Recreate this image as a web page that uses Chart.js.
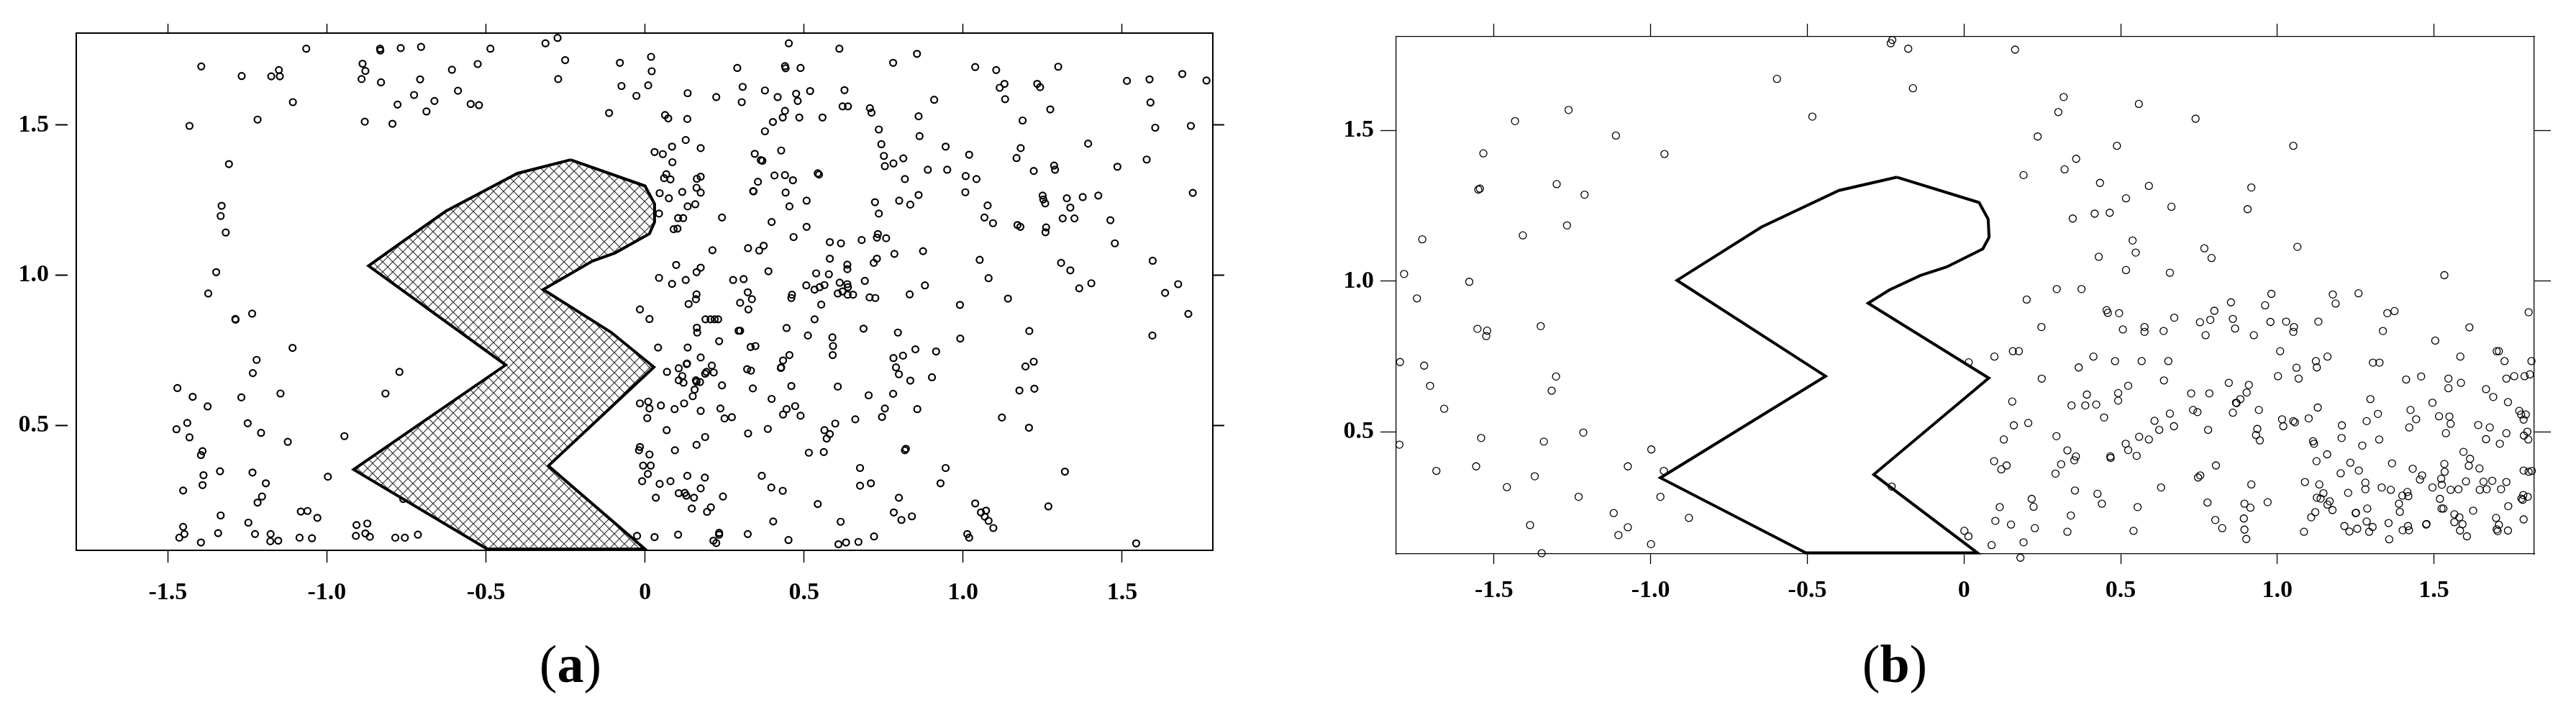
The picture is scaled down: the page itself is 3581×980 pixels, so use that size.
<!DOCTYPE html>
<html>
<head>
<meta charset="utf-8">
<title>Scatter with polygon</title>
<script src="https://cdn.jsdelivr.net/npm/chart.js@4"></script>
<style>
    html, body { margin: 0; padding: 0; background: #fff; }
    body { position: relative; width: 3581px; height: 980px; overflow: hidden; }
    canvas { position: absolute; top: 0; }
    #chartA { left: 0; }
    #chartB { left: 1790px; }
    .caption { position: absolute; top: 881px; width: 180px; text-align: center; font: 74px "Liberation Serif", serif; color: #000; }
    #capA { left: 703px; }
    #capB { left: 2544px; }
</style>
</head>
<body>
<canvas id="chartA" width="1790" height="980"></canvas>
<canvas id="chartB" width="1791" height="980"></canvas>
<div class="caption" id="capA">(<b>a</b>)</div>
<div class="caption" id="capB">(<b>b</b>)</div>
<script>
const xTickValues = [-1.5, -1.0, -0.5, 0, 0.5, 1.0, 1.5];
const yTickValues = [0.5, 1.0, 1.5];

// polygon outlines, closed
const polygonA = [[-0.234,1.384],[-0.401,1.339],[-0.626,1.213],[-0.775,1.102],[-0.869,1.031],[-0.438,0.701],[-0.916,0.353],[-0.496,0.088],[0.0,0.088],[-0.304,0.365],[0.028,0.694],[-0.107,0.810],[-0.320,0.952],[-0.165,1.047],[-0.094,1.074],[0.014,1.138],[0.030,1.177],[0.030,1.237],[0.0,1.297],[-0.234,1.384]];
const polygonB = [[-0.214,1.345],[-0.399,1.301],[-0.646,1.180],[-0.916,1.003],[-0.442,0.685],[-0.969,0.348],[-0.505,0.099],[0.043,0.099],[-0.288,0.359],[0.079,0.679],[-0.306,0.927],[-0.238,0.971],[-0.139,1.019],[-0.056,1.047],[0.060,1.107],[0.080,1.146],[0.077,1.206],[0.048,1.261],[-0.214,1.345]];

const pointsA = [
[-1.065,1.754],[-0.833,1.754],[-0.832,1.748],[-0.768,1.756],[-0.704,1.760],[-0.486,1.754],[-0.313,1.772],[-0.275,1.790],[-0.251,1.716],[-0.079,1.707],
[-1.395,1.695],[-1.268,1.663],[-1.175,1.662],[-1.151,1.683],[-1.148,1.662],[-0.888,1.704],[-0.879,1.680],[-0.891,1.653],[-0.830,1.642],[-0.707,1.652],
[-0.607,1.684],[-0.526,1.703],[-0.588,1.614],[-0.726,1.600],[-0.662,1.580],[-0.778,1.568],[-0.548,1.570],[-0.522,1.566],[-0.687,1.545],[-1.107,1.576],
[-1.218,1.518],[-1.432,1.497],[-0.881,1.511],[-0.794,1.504],[-0.273,1.653],[-0.074,1.630],[-0.027,1.597],[-0.113,1.540],[-1.308,1.370],[-1.331,1.231],
[-1.334,1.197],[-1.318,1.142],[-1.348,1.010],[-1.373,0.939],[-1.288,0.854],[-1.287,0.852],[-1.235,0.872],[-1.108,0.758],[-0.016,0.886],
[-1.221,0.718],[-1.233,0.674],[-1.470,0.624],[-1.422,0.595],[-1.269,0.593],[-1.146,0.606],[-1.375,0.563],[-0.816,0.606],[-0.772,0.678],[-1.439,0.508],
[-1.473,0.487],[-1.249,0.507],[-1.207,0.475],[-1.432,0.460],[-1.123,0.445],[-0.945,0.464],[-1.391,0.414],[-1.396,0.401],[-1.336,0.347],[-1.234,0.343],
[-1.388,0.334],[-0.997,0.329],[-1.391,0.301],[-1.192,0.307],[-1.452,0.283],[-1.204,0.263],[-1.218,0.243],[-0.760,0.255],[-1.334,0.200],[-1.082,0.213],
[-1.061,0.215],[-1.030,0.192],[-1.247,0.176],[-1.452,0.162],[-0.907,0.168],[-0.873,0.173],[-1.448,0.138],[-1.464,0.126],[-1.342,0.141],[-1.226,0.138],
[-1.177,0.138],[-1.178,0.114],[-1.153,0.116],[-1.396,0.110],[-1.086,0.126],[-1.047,0.124],[-0.909,0.132],[-0.879,0.140],[-0.865,0.129],[-0.785,0.126],
[-0.755,0.126],[-0.714,0.136],
[0.019,1.727],[0.021,1.679],[0.010,1.632],[0.063,1.533],[0.073,1.522],[0.133,1.520],[0.134,1.606],[0.224,1.593],[0.290,1.690],[0.307,1.627],
[0.304,1.576],[0.377,1.615],[0.417,1.593],[0.452,1.772],[0.440,1.696],[0.442,1.689],[0.489,1.690],[0.475,1.604],[0.480,1.580],[0.519,1.613],
[0.440,1.547],[0.433,1.525],[0.485,1.525],[0.558,1.525],[0.402,1.510],[0.377,1.479],[0.611,1.754],[0.780,1.707],[0.855,1.737],[0.627,1.616],
[0.621,1.562],[0.638,1.562],[0.707,1.556],[0.712,1.541],[0.909,1.584],[0.860,1.529],[0.735,1.485],[0.863,1.463],[0.743,1.436],[0.945,1.428],
[1.038,1.693],[1.104,1.683],[1.299,1.694],[1.130,1.637],[1.115,1.624],[1.132,1.586],[1.233,1.637],[1.242,1.626],[1.274,1.552],[1.187,1.515],
[1.515,1.647],[1.586,1.652],[1.689,1.670],[1.765,1.648],[1.589,1.575],[1.604,1.491],[1.716,1.497],[1.393,1.438],[1.181,1.423],[1.019,1.401],
[1.168,1.390],[1.577,1.385],[1.485,1.361],[1.286,1.365],[1.289,1.351],[1.222,1.347],[0.812,1.389],[0.781,1.372],[0.751,1.397],[0.754,1.363],
[0.889,1.351],[0.950,1.351],[1.008,1.330],[1.042,1.320],[0.817,1.320],[1.007,1.276],[0.860,1.267],[0.799,1.248],[0.834,1.235],[0.723,1.243],
[0.735,1.205],[1.077,1.232],[1.067,1.192],[1.094,1.173],[1.171,1.167],[1.180,1.161],[1.261,1.159],[1.259,1.143],[1.250,1.265],[1.252,1.252],
[1.258,1.239],[1.326,1.256],[1.376,1.260],[1.425,1.265],[1.337,1.225],[1.313,1.189],[1.350,1.189],[1.463,1.183],[1.722,1.274],[1.477,1.106],
[1.596,1.048],[1.308,1.041],[1.337,1.016],[1.052,1.051],[1.080,0.990],[1.403,0.973],[1.365,0.956],[1.676,0.970],[1.635,0.941],[1.141,0.922],
[0.990,0.901],[1.708,0.871],[1.208,0.814],[0.991,0.789],[1.595,0.799],[0.880,0.966],[0.832,0.936],[0.874,1.080],[0.784,1.071],[0.729,1.055],
[0.719,1.041],[0.758,1.123],[0.732,1.137],[0.729,1.125],[0.681,1.117],[0.616,1.106],[0.581,1.110],[0.581,1.055],[0.636,1.035],[0.636,1.020],
[0.538,1.006],[0.578,1.003],[0.691,0.981],[0.612,0.975],[0.636,0.970],[0.638,0.960],[0.564,0.967],[0.549,0.960],[0.507,0.966],[0.533,0.952],
[0.621,0.946],[0.606,0.939],[0.637,0.935],[0.654,0.935],[0.706,0.926],[0.724,0.924],[0.554,0.902],[0.462,0.935],[0.460,0.924],[0.533,0.853],
[0.445,0.824],[0.512,0.799],[0.589,0.793],[0.591,0.764],[0.687,0.822],[0.795,0.809],[0.850,0.753],[0.915,0.746],[0.467,1.127],[0.508,1.161],
[0.398,1.177],[0.454,1.229],[0.508,1.248],[0.442,1.275],[0.341,1.279],[0.340,1.280],[0.355,1.311],[0.407,1.332],[0.440,1.333],[0.465,1.316],
[0.543,1.339],[0.547,1.335],[0.345,1.404],[0.364,1.383],[0.369,1.381],[0.428,1.415],[0.128,1.450],[0.085,1.428],[0.175,1.423],[0.030,1.410],
[0.056,1.403],[0.086,1.376],[0.067,1.336],[0.060,1.323],[0.080,1.319],[0.175,1.328],[0.163,1.321],[0.162,1.291],[0.175,1.275],[0.046,1.273],
[0.117,1.277],[0.075,1.256],[0.158,1.236],[0.134,1.229],[0.044,1.205],[0.104,1.190],[0.120,1.190],[0.242,1.192],[0.090,1.153],[0.102,1.155],
[0.212,1.083],[0.324,1.090],[0.373,1.098],[0.359,1.082],[0.098,1.034],[0.175,1.025],[0.162,1.010],[0.388,1.013],[0.044,0.991],[0.085,0.971],
[0.128,0.984],[0.277,0.984],[0.310,0.987],[0.323,0.943],[0.336,0.920],[0.299,0.908],[0.325,0.886],[0.162,0.936],[0.160,0.920],[0.137,0.904],
[0.014,0.854],[0.190,0.853],[0.206,0.853],[0.219,0.853],[0.230,0.853],[0.163,0.825],[0.164,0.809],[0.294,0.815],[0.299,0.815],[0.233,0.780],
[0.041,0.759],[0.134,0.759],[0.332,0.761],[0.347,0.764],
[0.175,0.726],[0.454,0.734],[0.590,0.734],[0.781,0.724],[0.811,0.732],[1.222,0.712],[1.196,0.696],[0.434,0.716],[0.428,0.693],[0.427,0.691],
[0.132,0.706],[0.131,0.704],[0.210,0.699],[0.106,0.690],[0.069,0.678],[0.193,0.678],[0.189,0.672],[0.216,0.676],[0.321,0.687],[0.333,0.682],
[0.117,0.664],[0.106,0.650],[0.121,0.642],[0.160,0.650],[0.162,0.645],[0.173,0.644],[0.242,0.633],[0.339,0.623],[0.460,0.631],[0.789,0.693],
[0.798,0.670],[0.834,0.649],[0.902,0.660],[0.606,0.629],[0.703,0.600],[0.780,0.605],[1.177,0.616],[1.224,0.622],[0.156,0.619],[0.150,0.597],
[0.398,0.588],[-0.016,0.573],[0.010,0.579],[0.014,0.556],[0.050,0.566],[0.093,0.554],[0.123,0.573],[0.175,0.548],[0.237,0.556],[0.250,0.523],
[0.273,0.527],[0.007,0.524],[0.472,0.564],[0.445,0.554],[0.434,0.536],[0.489,0.532],[0.754,0.556],[0.856,0.554],[0.745,0.528],[0.661,0.520],
[0.598,0.506],[1.122,0.526],[1.207,0.492],[0.068,0.484],[0.324,0.473],[0.386,0.488],[0.564,0.484],[0.581,0.471],[0.571,0.456],[0.189,0.461],
[0.162,0.435],[-0.016,0.428],[-0.019,0.417],[0.094,0.417],[0.014,0.403],[0.515,0.409],[0.562,0.411],[0.820,0.422],[0.817,0.417],[-0.006,0.366],
[0.018,0.366],[0.676,0.358],[0.945,0.358],[1.320,0.346],[0.009,0.338],[-0.009,0.314],[0.046,0.305],[0.080,0.314],[0.133,0.332],[0.188,0.326],
[0.367,0.332],[0.175,0.290],[0.397,0.293],[0.433,0.282],[0.676,0.299],[0.710,0.307],[0.929,0.307],[0.106,0.274],[0.125,0.275],[0.130,0.266],
[0.034,0.259],[0.154,0.259],[0.245,0.263],[0.798,0.259],[0.543,0.238],[1.038,0.240],[1.268,0.230],[0.147,0.223],[0.207,0.227],[0.195,0.212],
[1.072,0.216],[1.056,0.210],[1.068,0.196],[0.782,0.210],[0.839,0.197],[0.806,0.185],[1.080,0.182],[1.095,0.158],[0.403,0.180],[0.615,0.179],
[-0.025,0.132],[0.030,0.128],[0.104,0.136],[0.233,0.142],[0.233,0.136],[0.323,0.138],[0.215,0.116],[0.224,0.108],[0.451,0.118],[0.720,0.130],
[0.671,0.112],[0.632,0.110],[0.608,0.104],[1.013,0.138],[1.019,0.126],[1.544,0.107]
];

const pointsB = [
[-0.229,1.800],[-0.234,1.789],[-0.178,1.771],[-0.597,1.671],[-0.163,1.640],[-0.484,1.546],[-1.262,1.568],[-1.433,1.531],[-1.111,1.483],[-1.534,1.424],
[-0.956,1.422],[-1.300,1.322],[-1.211,1.287],[-1.550,1.304],[-1.545,1.307],[-1.267,1.185],[-1.408,1.152],[-1.729,1.139],[-1.787,1.024],[-1.579,0.998],
[-1.746,0.943],[-1.351,0.851],[-1.553,0.842],[-1.522,0.836],[-1.525,0.818],
[-1.800,0.732],[-1.723,0.720],[-1.704,0.653],[-1.659,0.577],[-1.302,0.684],[-1.316,0.637],[-1.215,0.498],[-1.802,0.458],[-1.541,0.480],[-1.341,0.468],
[-0.998,0.442],[-1.557,0.386],[-1.684,0.371],[-1.073,0.386],[-0.958,0.371],[-1.370,0.353],[-1.459,0.317],[-1.230,0.285],[-0.969,0.285],[-1.118,0.231],
[-0.878,0.215],[-1.385,0.191],[-1.073,0.184],[-1.103,0.158],[-0.999,0.128],[-1.348,0.098],[-0.231,0.319],
[0.163,1.768],[0.318,1.611],[0.558,1.588],[0.301,1.561],[0.739,1.539],[0.235,1.480],[0.488,1.449],[1.051,1.449],[0.358,1.406],[0.321,1.371],
[0.190,1.352],[0.434,1.326],[0.590,1.316],[0.917,1.311],[0.517,1.275],[0.662,1.247],[0.905,1.239],[0.417,1.224],[0.465,1.227],[0.347,1.208],
[0.538,1.135],[0.548,1.095],[0.767,1.109],[0.790,1.077],[1.064,1.114],[0.430,1.081],[0.517,1.037],[0.657,1.028],[1.533,1.020],[0.296,0.974],
[0.375,0.974],[0.200,0.939],[0.981,0.958],[1.177,0.956],[1.259,0.960],[0.852,0.930],[0.961,0.920],[1.186,0.926],[0.455,0.904],[0.459,0.895],
[0.495,0.894],[0.799,0.902],[1.374,0.901],[1.351,0.894],[1.802,0.897],[0.671,0.879],[0.753,0.864],[0.786,0.872],[0.858,0.875],[0.978,0.865],
[1.028,0.866],[1.131,0.866],[0.247,0.848],[0.507,0.840],[0.576,0.848],[0.576,0.832],[0.637,0.835],[0.865,0.843],[1.053,0.848],[1.051,0.832],
[0.771,0.821],[0.925,0.821],[1.337,0.835],[1.613,0.847],[1.504,0.803],[0.156,0.768],[0.175,0.768],[1.009,0.768],[1.707,0.768],[1.700,0.768],
[0.015,0.731],[0.097,0.750],[0.413,0.750],[0.482,0.735],[0.567,0.735],[0.652,0.735],[0.366,0.714],[1.123,0.735],[1.126,0.714],[1.160,0.750],
[1.061,0.713],[1.305,0.730],[1.326,0.730],[1.584,0.750],[1.725,0.735],[1.811,0.735],[0.248,0.677],[0.638,0.671],[0.524,0.653],[0.492,0.629],
[0.492,0.604],[0.392,0.624],[0.343,0.588],[0.387,0.588],[0.422,0.591],[0.447,0.548],[0.154,0.601],[0.159,0.522],[0.205,0.530],[0.127,0.475],
[0.295,0.486],[0.330,0.439],[0.357,0.419],[0.352,0.406],[0.310,0.393],[0.292,0.362],[0.096,0.403],[0.136,0.389],[0.119,0.376],[0.354,0.306],
[0.426,0.295],[0.440,0.262],[0.216,0.278],[0.222,0.252],[0.114,0.251],[0.100,0.205],[0.150,0.193],[0.226,0.181],[0.341,0.223],[0.330,0.169],
[0.001,0.172],[0.014,0.154],[0.088,0.125],[0.190,0.134],[0.180,0.083],[0.541,0.172],[0.554,0.251],[0.629,0.316],[0.467,0.419],[0.468,0.414],
[0.551,0.421],[0.524,0.440],[0.516,0.461],[0.559,0.484],[0.590,0.475],[0.623,0.507],[0.670,0.519],[0.608,0.537],[0.657,0.561],[0.731,0.573],
[0.745,0.566],[0.725,0.628],[0.783,0.628],[0.845,0.663],[0.909,0.656],[0.902,0.631],[0.882,0.609],[0.868,0.597],[0.870,0.596],[0.858,0.564],
[0.941,0.573],[0.779,0.507],[0.936,0.510],[0.932,0.490],[0.944,0.472],[1.002,0.685],[1.068,0.677],[1.129,0.581],[1.015,0.542],[1.019,0.519],
[1.051,0.536],[1.056,0.532],[1.100,0.545],[1.206,0.522],[1.205,0.480],[1.114,0.469],[1.117,0.461],[1.271,0.455],[1.325,0.475],[1.285,0.536],
[1.321,0.560],[1.297,0.609],[1.411,0.674],[1.459,0.684],[1.546,0.677],[1.586,0.663],[1.546,0.645],[1.666,0.642],[1.689,0.616],[1.736,0.599],
[1.731,0.677],[1.756,0.685],[1.789,0.685],[1.806,0.691],[1.495,0.597],[1.425,0.573],[1.443,0.542],[1.421,0.515],[1.516,0.552],[1.549,0.551],
[1.553,0.527],[1.538,0.496],[1.641,0.523],[1.678,0.515],[1.666,0.476],[1.710,0.461],[1.731,0.496],[1.772,0.570],[1.778,0.558],[1.793,0.558],
[1.786,0.541],[1.798,0.501],[1.787,0.488],[1.801,0.475],[1.159,0.426],[1.125,0.403],[1.233,0.398],[1.260,0.372],[1.202,0.363],[1.366,0.396],
[1.432,0.378],[1.462,0.356],[1.455,0.342],[1.533,0.394],[1.534,0.368],[1.523,0.345],[1.525,0.325],[1.594,0.434],[1.615,0.411],[1.611,0.388],
[1.645,0.379],[1.602,0.336],[1.658,0.335],[1.686,0.338],[1.731,0.334],[1.786,0.372],[1.802,0.368],[1.812,0.371],[1.495,0.316],[1.553,0.308],
[1.578,0.310],[1.646,0.308],[1.668,0.310],[1.714,0.310],[1.281,0.332],[1.281,0.310],[1.333,0.316],[1.362,0.308],[1.226,0.298],[1.088,0.334],
[1.134,0.326],[1.147,0.297],[1.126,0.282],[1.138,0.279],[1.167,0.270],[1.160,0.259],[1.176,0.241],[1.121,0.234],[1.108,0.217],[1.399,0.289],
[1.415,0.301],[1.418,0.287],[1.388,0.262],[1.391,0.235],[1.519,0.278],[1.524,0.246],[1.530,0.246],[1.625,0.239],[1.737,0.254],[1.785,0.291],
[1.799,0.285],[1.783,0.275],[1.779,0.279],[1.251,0.232],[1.250,0.231],[1.287,0.246],[1.285,0.203],[1.304,0.185],[1.214,0.188],[1.230,0.170],
[1.255,0.179],[1.293,0.169],[1.355,0.198],[1.357,0.144],[1.417,0.188],[1.400,0.174],[1.420,0.174],[1.476,0.195],[1.475,0.193],[1.565,0.227],
[1.581,0.217],[1.565,0.201],[1.591,0.194],[1.583,0.173],[1.605,0.154],[1.698,0.215],[1.707,0.192],[1.700,0.177],[1.703,0.171],[1.736,0.173],
[1.786,0.210],[1.085,0.169],[0.747,0.349],[0.754,0.356],[0.804,0.389],[0.917,0.326],[0.969,0.267],[0.895,0.262],[0.914,0.249],[0.777,0.266],
[0.802,0.208],[0.824,0.181],[0.893,0.213],[0.895,0.176],[0.901,0.145]
];

const toXY = (pairs) => pairs.map(p => ({ x: p[0], y: p[1] }));

// cross hatch tile for the filled polygon
function hatchPattern() {
    const tile = document.createElement('canvas');
    tile.width = 14;
    tile.height = 14;
    const c = tile.getContext('2d');
    c.fillStyle = '#fff';
    c.fillRect(0, 0, 14, 14);
    c.strokeStyle = '#333';
    c.lineWidth = 1.2;
    c.beginPath();
    c.moveTo(0, 0); c.lineTo(14, 14);
    c.moveTo(14, 0); c.lineTo(0, 14);
    c.stroke();
    return c.createPattern(tile, 'repeat');
}

function setTicks(values) {
    return (scale) => { scale.ticks = values.map(v => ({ value: v })); };
}

function labelFor(v) {
    return v === 0 ? '0' : v.toFixed(1);
}

function fixedSize(prop, size) {
    return (scale) => { scale[prop] = size; };
}

function makePanel(id, cfg) {
    const font = { family: '"Liberation Serif", serif', size: 34, weight: 'bold', lineHeight: 1 };
    const border = { display: true, color: '#000', width: cfg.frame };
    const xBase = { type: 'linear', min: cfg.xMin, max: cfg.xMax, afterBuildTicks: setTicks(xTickValues) };
    const yBase = { type: 'linear', min: cfg.yMin, max: cfg.yMax, afterBuildTicks: setTicks(yTickValues) };

    return new Chart(document.getElementById(id), {
        type: 'scatter',
        data: {
            datasets: [
                {
                    data: toXY(cfg.polygon),
                    showLine: true,
                    fill: cfg.fill ? 'shape' : false,
                    backgroundColor: cfg.fill || 'transparent',
                    borderColor: '#000',
                    borderWidth: cfg.lineWidth,
                    borderJoinStyle: 'miter',
                    pointRadius: 0,
                    clip: false,
                    order: 0
                },
                {
                    data: toXY(cfg.points),
                    pointStyle: 'circle',
                    pointRadius: cfg.radius,
                    pointBorderWidth: cfg.pointLine,
                    pointBorderColor: '#000',
                    pointBackgroundColor: 'transparent',
                    clip: false,
                    order: 1
                }
            ]
        },
        options: {
            responsive: false,
            animation: false,
            layout: { padding: 0 },
            plugins: { legend: { display: false }, tooltip: { enabled: false } },
            scales: {
                x: {
                    ...xBase,
                    position: 'bottom',
                    afterFit: fixedSize('height', cfg.bottom),
                    border,
                    grid: { drawOnChartArea: false, color: '#000', tickLength: cfg.tickBottom, tickWidth: cfg.tickX },
                    ticks: { color: '#000', font, padding: cfg.xPad, maxRotation: 0, autoSkip: false, callback: labelFor }
                },
                x2: {
                    ...xBase,
                    position: 'top',
                    afterFit: fixedSize('height', cfg.top),
                    border,
                    grid: { drawOnChartArea: false, color: '#000', tickLength: cfg.tickTop, tickWidth: cfg.tickX },
                    ticks: { display: false }
                },
                y: {
                    ...yBase,
                    position: 'left',
                    afterFit: fixedSize('width', cfg.left),
                    border,
                    grid: { drawOnChartArea: false, color: '#000', tickLength: cfg.tickLeft, tickWidth: cfg.tickY },
                    ticks: { color: '#000', font, padding: 9, autoSkip: false, callback: labelFor }
                },
                y2: {
                    ...yBase,
                    position: 'right',
                    afterFit: fixedSize('width', cfg.right),
                    border,
                    grid: { drawOnChartArea: false, color: '#000', tickLength: cfg.tickRight, tickWidth: cfg.tickY },
                    ticks: { display: false }
                }
            }
        },
        plugins: [{
            id: 'tickGap',
            // panel (a) has its left ticks set off from the frame
            afterDraw(chart) {
                if (!cfg.leftGap) return;
                const left = chart.chartArea.left;
                chart.ctx.save();
                chart.ctx.fillStyle = '#fff';
                chart.ctx.fillRect(left - cfg.leftGap - 1, chart.chartArea.top, cfg.leftGap, chart.chartArea.height);
                chart.ctx.restore();
            }
        }]
    });
}

makePanel('chartA', {
    points: pointsA, polygon: polygonA, fill: hatchPattern(),
    xMin: -1.788, xMax: 1.785, yMin: 0.0838, yMax: 1.806,
    left: 106, right: 104, top: 46, bottom: 215,
    frame: 2, lineWidth: 4, radius: 4.5, pointLine: 2.2,
    tickBottom: 17, tickTop: 13, tickLeft: 29, tickRight: 16, tickX: 1.5, tickY: 2, leftGap: 11, xPad: 25
});

makePanel('chartB', {
    points: pointsB, polygon: polygonB, fill: null,
    xMin: -1.812, xMax: 1.82, yMin: 0.0955, yMax: 1.811,
    left: 151, right: 58, top: 51, bottom: 210,
    frame: 1.3, lineWidth: 4, radius: 5, pointLine: 1.3,
    tickBottom: 14, tickTop: 18, tickLeft: 22, tickRight: 23, tickX: 1.3, tickY: 1.3, leftGap: 0, xPad: 20
});
</script>
</body>
</html>
